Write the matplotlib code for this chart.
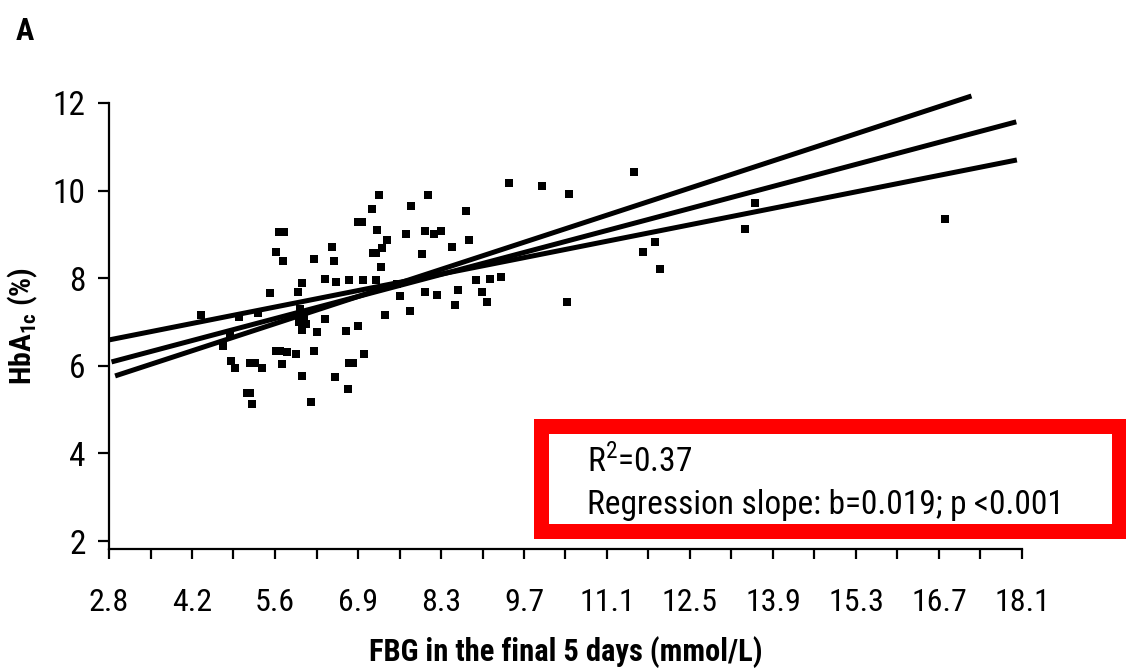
import matplotlib
matplotlib.use("Agg")
import matplotlib.pyplot as plt
from matplotlib.patches import Rectangle
from matplotlib.ticker import FixedLocator
from matplotlib import font_manager as fm

# pick a condensed sans if available
_fonts = fm.fontManager.ttflist
_names = {f.name for f in _fonts}
stretch = 'normal'
family = 'Liberation Sans' if 'Liberation Sans' in _names else 'DejaVu Sans'
for cand in ['Liberation Sans Narrow', 'Roboto Condensed', 'Open Sans Condensed', 'Noto Sans Condensed']:
    if cand in _names:
        family = cand
        break
else:
    if any(f.name == 'DejaVu Sans' and str(f.stretch) in ('condensed', '300', 'semi-condensed') for f in _fonts):
        family = 'DejaVu Sans'
        stretch = 'condensed'
plt.rcParams['font.family'] = [family, 'DejaVu Sans']
plt.rcParams['font.stretch'] = stretch
plt.rcParams['mathtext.fontset'] = 'custom'
plt.rcParams['mathtext.rm'] = family
plt.rcParams['mathtext.bf'] = family + ':bold'

# FBG (mmol/L) and HbA1c (%)
fbg = [9.47, 10.03, 10.48, 11.57, 8.75, 8.80, 8.51, 8.33, 8.22, 8.07, 8.12, 7.83, 7.74, 8.01,
       7.29, 7.18, 6.94, 7.01, 7.26, 7.43, 7.34, 7.19, 7.24, 7.33, 6.51, 6.55, 6.21, 5.62, 5.71,
       5.58, 5.69, 5.48, 6.01, 5.94, 6.40, 6.57, 6.80, 7.03, 7.24, 7.59, 7.65, 8.07, 8.27, 8.62,
       8.57, 8.92, 9.15, 9.34, 9.02, 9.10, 10.44, 11.92, 11.71, 12.00, 4.31, 5.27, 4.95,
       7.82, 7.39, 6.40, 5.97, 6.04, 5.96, 6.07, 6.01, 6.01, 6.26, 6.75, 6.94, 5.58, 5.64, 5.76,
       5.91, 6.21, 7.05, 4.82, 4.88, 5.14, 5.22, 5.33, 5.67, 6.80, 6.86, 6.00, 6.56, 6.78, 5.08,
       5.14, 5.17, 6.16, 4.68, 4.80, 13.59, 13.42, 16.77]
hba1c = [10.18, 10.11, 9.92, 10.42, 9.53, 8.87, 8.72, 9.08, 9.01, 9.08, 9.89, 9.66, 9.01, 8.56,
         9.89, 9.59, 9.28, 9.28, 9.09, 8.87, 8.70, 8.57, 8.57, 8.26, 8.71, 8.40, 8.44, 9.05, 9.05,
         8.60, 8.40, 7.66, 7.90, 7.68, 7.99, 7.91, 7.97, 7.97, 7.96, 7.88, 7.59, 7.68, 7.61, 7.74,
         7.39, 7.96, 7.98, 8.03, 7.68, 7.46, 7.46, 8.82, 8.59, 8.22, 7.15, 7.20, 7.12,
         7.26, 7.15, 7.08, 7.30, 7.14, 7.00, 6.95, 7.10, 6.82, 6.77, 6.79, 6.92, 6.34, 6.34, 6.32,
         6.27, 6.34, 6.28, 6.12, 5.94, 6.06, 6.06, 5.96, 6.05, 6.06, 6.06, 5.76, 5.74, 5.47, 5.39,
         5.39, 5.14, 5.17, 6.46, 6.70, 9.71, 9.12, 9.35]

# Three fitted lines (end points)
line_steep_x = [2.88, 17.21]
line_steep_y = [5.77, 12.16]
line_mid_x = [2.82, 17.96]
line_mid_y = [6.09, 11.57]
line_flat_x = [2.77, 17.97]
line_flat_y = [6.59, 10.70]

# x axis: mg/dL grid 50..325 by 25, labelled in mmol/L
tick_mgdl = list(range(50, 326, 25))
tick_labels = ['2.8', '4.2', '5.6', '6.9', '8.3', '9.7', '11.1', '12.5', '13.9', '15.3', '16.7', '18.1']
y_ticks = [2, 4, 6, 8, 10, 12]

fig = plt.figure(figsize=(11.26, 6.70), dpi=100)
ax = fig.add_axes([109/1126, 1 - 549/670, (1022 - 109)/1126, (549 - 103)/670])

ax.scatter(fbg, hba1c, marker='s', s=26, color='black', linewidths=0, zorder=3)
for lx, ly in [(line_steep_x, line_steep_y), (line_mid_x, line_mid_y), (line_flat_x, line_flat_y)]:
    ax.plot(lx, ly, color='black', lw=3.6, solid_capstyle='butt', zorder=2, clip_on=False)

xt = [m / 18.0 for m in tick_mgdl]
ax.set_xlim(xt[0], xt[-1])
ax.set_ylim(1.82, 12)
ax.set_xticks(xt)
ax.set_xticklabels(tick_labels)
minor = [(m + 12.5) / 18.0 for m in tick_mgdl[:-1]]
ax.xaxis.set_minor_locator(FixedLocator(minor))
ax.set_yticks(y_ticks)

for s in ['top', 'right']:
    ax.spines[s].set_visible(False)
for s in ['left', 'bottom']:
    ax.spines[s].set_linewidth(1.6)

ax.tick_params(axis='x', which='major', direction='out', length=7, width=1.6, pad=21, labelsize=23)
ax.tick_params(axis='x', which='minor', direction='out', length=7, width=1.6)
ax.tick_params(axis='y', which='major', direction='out', length=8, width=1.6, pad=9, labelsize=24)

ax.set_xlabel('FBG in the final 5 days (mmol/L)', fontsize=22, fontweight='bold', labelpad=14)
ax.set_ylabel(r'HbA$_{\mathbf{1c}}$ (%)', fontsize=21.5, fontweight='bold', labelpad=9)

fig.text(16/1126, 1 - 31/670, 'A', fontsize=22, fontweight='bold', va='center', ha='left')

rect = Rectangle((540.5/1126, 1 - 530.5/670), (1118.5 - 540.5)/1126, (530.5 - 425.5)/670,
                 transform=fig.transFigure, fill=False, edgecolor='#ff0000', linewidth=10.8)
fig.patches.append(rect)

fig.text(587/1126, 1 - 462/670, r'R$^2$=0.37', fontsize=24, va='center', ha='left')
fig.text(587/1126, 1 - 505/670, 'Regression slope: b=0.019; p <0.001', fontsize=24, va='center', ha='left')

fig.savefig('out.png', dpi=100)
